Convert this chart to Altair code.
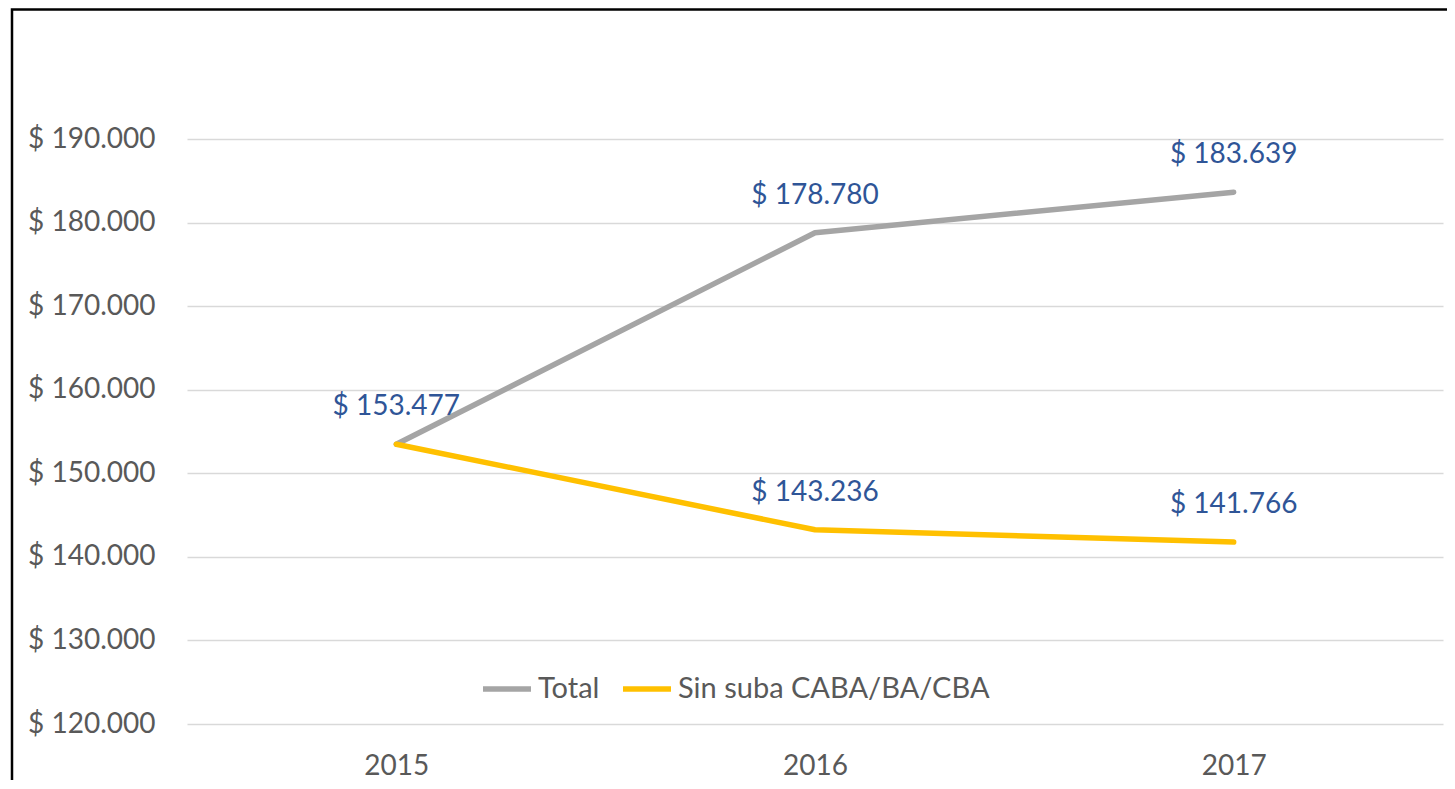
import altair as alt
import pandas as pd

years = ["2015", "2016", "2017"]
total = [153477, 178780, 183639]
sin_suba = [153477, 143236, 141766]
series_names = ["Total", "Sin suba CABA/BA/CBA"]
series_colors = ["#A5A5A5", "#FFC000"]
y_ticks = [120000, 130000, 140000, 150000, 160000, 170000, 180000, 190000]

def fmt(v):
    return "$ " + f"{v:,}".replace(",", ".")

rows = []
for s, vals in zip(series_names, [total, sin_suba]):
    for y, v in zip(years, vals):
        rows.append({"year": y, "value": v, "series": s, "label": fmt(v)})
df = pd.DataFrame(rows)
# label once per point (2015 shared)
lab = df[~((df["series"] == "Sin suba CABA/BA/CBA") & (df["year"] == "2015"))]

FONT = "Lato"
FS = 28
W, H = 1256, 585

x = alt.X("year:N", scale=alt.Scale(type="point", padding=0.5),
          axis=alt.Axis(title=None, labelAngle=0, ticks=False, domain=False, grid=False,
                        labelFontSize=FS, labelColor="#595959", labelFont=FONT,
                        labelPadding=28))
y = alt.Y("value:Q", scale=alt.Scale(domain=[120000, 190000], nice=False, zero=False),
          axis=alt.Axis(title=None, values=y_ticks, ticks=False, domain=False,
                        labelExpr="'$ ' + format(datum.value/1000, 'd') + '.000'",
                        labelFontSize=FS, labelColor="#595959", labelFont=FONT,
                        labelPadding=32, gridColor="#D9D9D9", gridWidth=1.5))

lines = alt.Chart(df).mark_line(strokeWidth=5.5, strokeCap="round", strokeJoin="round").encode(
    x=x, y=y,
    color=alt.Color("series:N",
                    scale=alt.Scale(domain=series_names, range=series_colors),
                    sort=series_names,
                    legend=alt.Legend(title=None, orient="none", direction="horizontal",
                                      legendX=293, legendY=523,
                                      symbolType="stroke", symbolSize=2304,
                                      symbolStrokeWidth=5.5, labelFontSize=29,
                                      labelColor="#595959", labelFont=FONT,
                                      labelLimit=500,
                                      labelOffset=4, columnPadding=12)),
    order=alt.Order("series:N", sort="ascending"),
)

labels = alt.Chart(lab).mark_text(dy=-37, fontSize=FS, font=FONT, color="#2F5597").encode(
    x=alt.X("year:N", scale=alt.Scale(type="point", padding=0.5)),
    y=alt.Y("value:Q"),
    text="label:N",
)

border = alt.Chart(pd.DataFrame({"a": [0]})).mark_rect(
    fill=None, stroke="black", strokeWidth=2.5
).encode(
    x=alt.value(-175), x2=alt.value(W + 60),
    y=alt.value(-129.5), y2=alt.value(H + 120),
)

chart = alt.layer(lines, labels, border).properties(
    width=W, height=H,
    padding={"left": 179, "top": 131, "right": 4, "bottom": 56},
    autosize=alt.AutoSizeParams(type="none"),
    background="white",
).configure_view(stroke=None)

chart.save("out.html", embed_options={"renderer": "svg", "actions": False})
